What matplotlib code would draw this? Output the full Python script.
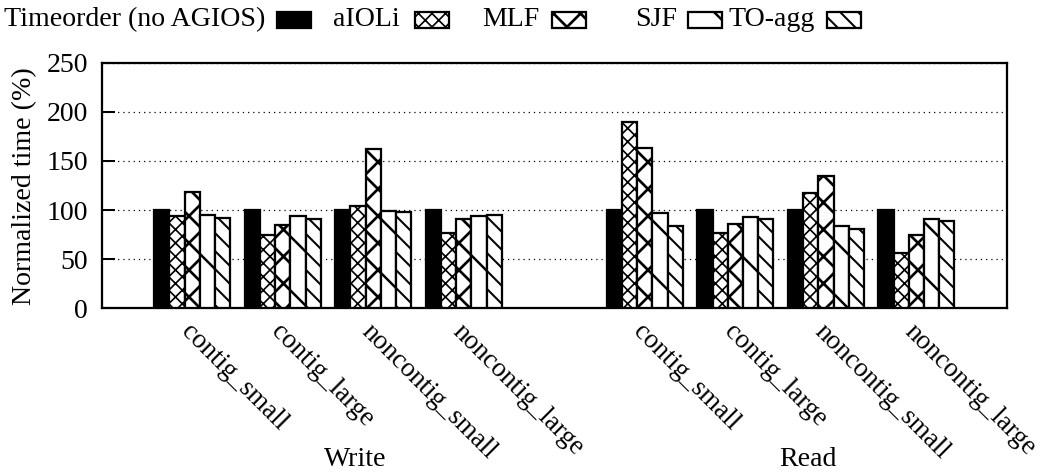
import matplotlib
matplotlib.use('Agg')
import matplotlib.pyplot as plt
from matplotlib.patches import Rectangle
import matplotlib.transforms as mtransforms
import numpy as np

# ---------------- data ----------------
categories = ['contig_small', 'contig_large', 'noncontig_small', 'noncontig_large']
groups = ['Write', 'Read']
series = ['Timeorder (no AGIOS)', 'aIOLi', 'MLF', 'SJF', 'TO-agg']

write_timeorder = [100, 100, 100, 100]
write_aioli = [94, 75, 104, 77]
write_mlf = [118, 85, 162, 91]
write_sjf = [95, 94, 99, 94]
write_toagg = [92, 91, 98, 95]

read_timeorder = [100, 100, 100, 100]
read_aioli = [190, 77, 117, 56]
read_mlf = [163, 86, 135, 75]
read_sjf = [97, 93, 84, 91]
read_toagg = [84, 91, 81, 89]

yticks = [0, 50, 100, 150, 200, 250]

write_data = [write_timeorder, write_aioli, write_mlf, write_sjf, write_toagg]
read_data = [read_timeorder, read_aioli, read_mlf, read_sjf, read_toagg]

# ---------------- style ----------------
DPI = 162
W, H = 1041, 472
plt.rcParams['font.family'] = ['Liberation Serif', 'DejaVu Serif']
plt.rcParams['font.size'] = 12.4
plt.rcParams['hatch.linewidth'] = 0.9

styles = [
    dict(facecolor='black', hatch=None, hlw=0.9),
    dict(facecolor='white', hatch='xxxx', hlw=0.75),
    dict(facecolor='white', hatch='xx', hlw=1.2),
    dict(facecolor='white', hatch='\\', hlw=1.1),
    dict(facecolor='white', hatch='\\\\\\', hlw=0.9),
]

fig = plt.figure(figsize=(W / DPI, H / DPI), dpi=DPI)
ax = fig.add_axes([101.7 / W, 1 - 308.3 / H, (1007 - 101.7) / W, (308.3 - 62.7) / H])

n_cat = len(categories)
write_pos = np.arange(n_cat)
read_pos = np.arange(n_cat) + n_cat + 1
bw = 0.168

for k, name in enumerate(series):
    st = styles[k]
    off = (k - 2) * bw
    for pos, data in ((write_pos, write_data), (read_pos, read_data)):
        bars = ax.bar(pos + off, data[k], width=bw, facecolor=st['facecolor'],
                      edgecolor='black', linewidth=1.0, hatch=st['hatch'], zorder=3)
        for b in bars:
            try:
                b.set_hatch_linewidth(st['hlw'])
            except AttributeError:
                pass

ax.set_xlim(-1, 2 * n_cat + 1)
ax.set_ylim(0, 250)
ax.set_yticks(yticks)
ax.set_yticklabels([str(v) for v in yticks])
ax.yaxis.grid(True, color='black', linewidth=0.55, linestyle=(0, (1, 3.2)), zorder=0)
ax.set_axisbelow(True)
ax.tick_params(axis='y', direction='in', length=5.8, width=0.9, pad=6, left=True, right=False)
ax.tick_params(axis='x', length=0, pad=5)
for s in ax.spines.values():
    s.set_linewidth(1.0)

xt = np.concatenate([write_pos, read_pos])
ax.set_xticks(xt)
ax.set_xticklabels(categories * 2, rotation=-45, ha='left', va='top', rotation_mode='anchor',
                   fontsize=12.0)
shift = mtransforms.ScaledTranslation(1 / DPI, 0, fig.dpi_scale_trans)
for lbl in ax.get_xticklabels():
    lbl.set_transform(lbl.get_transform() + shift)

# group labels
trans = mtransforms.blended_transform_factory(ax.transData, ax.transAxes)
for g, pos in zip(groups, (write_pos, read_pos)):
    ax.text(pos.mean() + 0.3, -0.615, g, transform=trans, ha='center', va='center')

fig.text(25 / W, 1 - 186 / H, 'Normalized time (%)', rotation=90, ha='center', va='center')

# legend (text left of sample, gnuplot style)
text_right = [265, 400, 539, 677, 815]
box_left = [277, 415, 552, 688, 827]
box_w, box_h = 34, 16
ly = 20
for k, name in enumerate(series):
    st = styles[k]
    fig.text(text_right[k] / W, 1 - ly / H, name, ha='right', va='center')
    r = Rectangle((box_left[k] / W, 1 - (ly + box_h / 2) / H), box_w / W, box_h / H,
                  transform=fig.transFigure, facecolor=st['facecolor'], edgecolor='black',
                  linewidth=1.0, hatch=st['hatch'])
    try:
        r.set_hatch_linewidth(st['hlw'])
    except AttributeError:
        pass
    fig.add_artist(r)

fig.savefig('out.png', dpi=DPI)
